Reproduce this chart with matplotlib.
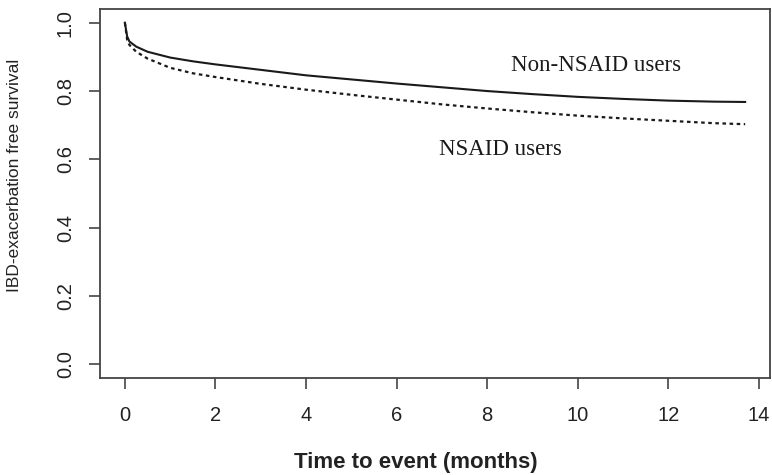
import matplotlib
matplotlib.use('Agg')
import matplotlib.pyplot as plt
from matplotlib import font_manager

# survival curves
months = [0, 0.05, 0.1, 0.25, 0.5, 1, 1.5, 2, 3, 4, 5, 6, 7, 8, 9, 10, 11, 12, 13, 13.7]
non_nsaid = [1.0, 0.960, 0.945, 0.930, 0.915, 0.898, 0.887, 0.878, 0.862, 0.846,
             0.834, 0.822, 0.811, 0.800, 0.791, 0.783, 0.777, 0.772, 0.769, 0.768]
nsaid = [1.0, 0.950, 0.935, 0.915, 0.895, 0.868, 0.852, 0.841, 0.821, 0.804,
         0.789, 0.775, 0.761, 0.749, 0.738, 0.728, 0.720, 0.713, 0.706, 0.703]
xticks = [0, 2, 4, 6, 8, 10, 12, 14]
yticks = [0.0, 0.2, 0.4, 0.6, 0.8, 1.0]

names = {f.name for f in font_manager.fontManager.ttflist}
sans = 'Liberation Sans Narrow' if 'Liberation Sans Narrow' in names else 'Liberation Sans'

fig = plt.figure(figsize=(7.72, 4.75), dpi=100)
ax = fig.add_axes([0.1295, 0.204, 0.868, 0.777])

ax.plot(months, non_nsaid, color='#1a1a1a', lw=1.5)
ax.plot(months, nsaid, color='#1a1a1a', lw=1.6, linestyle=(0, (1.6, 1.6)))

ax.set_xlim(-0.55, 14.25)
ax.set_ylim(-0.04, 1.04)
ax.set_xticks(xticks)
ax.set_yticks(yticks)
ax.set_xticklabels([str(v) for v in xticks], fontsize=14.5, family=sans, color='#222')
ax.set_yticklabels(['%.1f' % v for v in yticks], fontsize=14.5, family=sans, color='#222',
                   rotation=90, va='center')
ax.tick_params(axis='x', length=8, width=1.2, color='#444', pad=12)
ax.tick_params(axis='y', length=8, width=1.2, color='#444', pad=10)
for s in ax.spines.values():
    s.set_linewidth(1.3)
    s.set_color('#444')

ax.set_ylabel('IBD-exacerbation free survival', fontsize=12.5, family='Liberation Sans',
              color='#222', va='center')
ax.yaxis.set_label_coords(-0.127, 0.55)
ax.set_xlabel('Time to event (months)', fontsize=16, family=sans, fontweight='bold',
              color='#222', va='center')
ax.xaxis.set_label_coords(0.472, -0.228)

ax.text(10.4, 0.876, 'Non-NSAID users', fontsize=16.5, family='Liberation Serif',
        color='#1a1a1a', ha='center', va='center')
ax.text(8.3, 0.628, 'NSAID users', fontsize=16.5, family='Liberation Serif',
        color='#1a1a1a', ha='center', va='center')

fig.savefig('out.png', dpi=100)
